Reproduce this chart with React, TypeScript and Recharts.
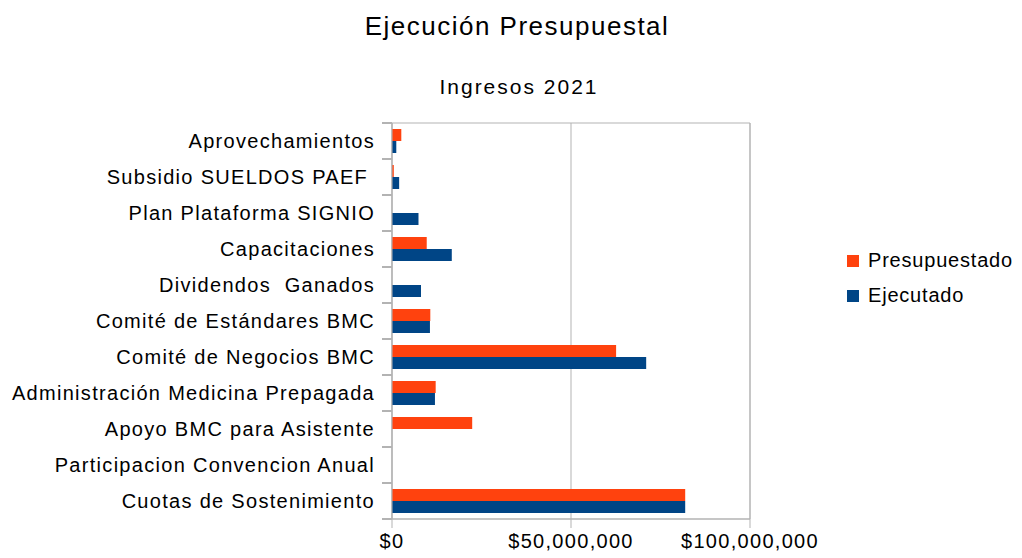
import React from 'react';
import { BarChart, Bar, XAxis, YAxis, CartesianGrid, Legend, ReferenceArea } from 'recharts';

const categories = [
  'Aprovechamientos',
  'Subsidio SUELDOS PAEF ',
  'Plan Plataforma SIGNIO',
  'Capacitaciones',
  'Dividendos  Ganados',
  'Comité de Estándares BMC',
  'Comité de Negocios BMC',
  'Administración Medicina Prepagada',
  'Apoyo BMC para Asistente',
  'Participacion Convencion Anual',
  'Cuotas de Sostenimiento',
];

// valores (pesos)
const presupuestado = [
  2600000, 500000, 0, 9700000, 0, 10700000, 62600000, 12200000, 22400000, 0, 81900000,
];
const ejecutado = [
  1200000, 2000000, 7400000, 16700000, 8100000, 10600000, 71000000, 12000000, 0, 0, 81900000,
];

const xTicks = [0, 50000000, 100000000];

const series = [
  { key: 'presupuestado', name: 'Presupuestado', color: '#ff420e' },
  { key: 'ejecutado', name: 'Ejecutado', color: '#004586' },
];

const data = categories.map((name, i) => ({
  name,
  presupuestado: presupuestado[i],
  ejecutado: ejecutado[i],
}));

const FONT = '"Liberation Sans", Arial, sans-serif';
const GRID = '#b3b3b3';
const BAND = 36;

const formatMoney = (v: number) => '$' + v.toLocaleString('en-US');

// etiqueta de categoria + marca de division entre categorias
function CategoryTick(props: any) {
  const { payload, index } = props;
  const x = Number(props.x);
  const y = Number(props.y);
  const top = Math.round(y - BAND / 2);
  const bottom = Math.round(y + BAND / 2);
  return (
    <g className="cat-tick">
      <path d={`M${x + 7},${top}H${x + 17}`} stroke={GRID} strokeWidth={2} fill="none" />
      {index === categories.length - 1 && (
        <path d={`M${x + 7},${bottom}H${x + 17}`} stroke={GRID} strokeWidth={2} fill="none" />
      )}
      <text
        x={x}
        y={y}
        dy="0.36em"
        textAnchor="end"
        fill="#000"
        style={{ fontFamily: FONT, fontSize: 20, letterSpacing: '1.3px', whiteSpace: 'pre' }}
      >
        {payload.value}
      </text>
    </g>
  );
}

function LegendBox() {
  return (
    <div style={{ fontFamily: FONT, fontSize: 20, letterSpacing: '0.8px', color: '#000' }}>
      {series.map((s) => (
        <div key={s.key} style={{ display: 'flex', alignItems: 'center', height: 35, lineHeight: '35px' }}>
          <span style={{ width: 12, height: 12, background: s.color, marginRight: 9, display: 'inline-block' }} />
          {s.name}
        </div>
      ))}
    </div>
  );
}

export default function App() {
  return (
    <div style={{ position: 'absolute', left: 0, top: 0, width: 1022, height: 558, background: '#fff' }}>
      <div
        style={{
          position: 'absolute',
          left: 217,
          top: 11,
          width: 600,
          textAlign: 'center',
          fontFamily: FONT,
          fontSize: 26,
          letterSpacing: '1.5px',
          lineHeight: '30px',
          color: '#000',
        }}
      >
        Ejecución Presupuestal
      </div>
      <div
        style={{
          position: 'absolute',
          left: 219,
          top: 75,
          width: 600,
          textAlign: 'center',
          fontFamily: FONT,
          fontSize: 21,
          letterSpacing: '2px',
          lineHeight: '24px',
          color: '#000',
        }}
      >
        Ingresos 2021
      </div>
      <BarChart
        width={1022}
        height={558}
        data={data}
        layout="vertical"
        margin={{ top: 123, right: 272, bottom: 0, left: 0 }}
        barSize={12}
        barGap={0}
      >
        <CartesianGrid horizontal={false} stroke={GRID} />
        <ReferenceArea x1={0} x2={100000000} stroke={GRID} fill="none" />
        <XAxis
          type="number"
          domain={[0, 100000000]}
          ticks={xTicks}
          tickFormatter={formatMoney}
          height={39}
          stroke={GRID}
          tickSize={9}
          tickMargin={6}
          tick={{ fill: '#000', fontFamily: FONT, fontSize: 20, letterSpacing: '1.3px' }}
        />
        <YAxis
          type="category"
          dataKey="name"
          width={392}
          stroke={GRID}
          tickLine={false}
          tickSize={9}
          tickMargin={8}
          interval={0}
          tick={<CategoryTick />}
        />
        <Legend
          layout="vertical"
          align="center"
          verticalAlign="middle"
          content={<LegendBox />}
          wrapperStyle={{ left: 847, top: 243, width: 'auto' }}
        />
        {series.map((s) => (
          <Bar key={s.key} dataKey={s.key} name={s.name} fill={s.color} isAnimationActive={false} />
        ))}
      </BarChart>
    </div>
  );
}
